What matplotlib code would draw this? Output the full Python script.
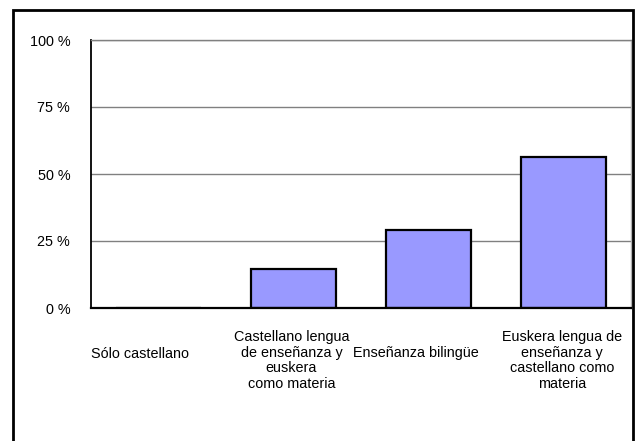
import numpy as np
import matplotlib
matplotlib.use('Agg')
import matplotlib.pyplot as plt
from matplotlib.patches import Rectangle
from matplotlib.transforms import blended_transform_factory, ScaledTranslation

categorias = ['Sólo castellano',
              'Castellano lengua\nde enseñanza y\neuskera\ncomo materia',
              'Enseñanza bilingüe',
              'Euskera lengua de\nenseñanza y\ncastellano como\nmateria']
porcentajes = [0.0, 14.6, 29.0, 56.5]
ticks_y = [0, 25, 50, 75, 100]
etiquetas_y = ['0 %', '25 %', '50 %', '75 %', '100 %']

plt.rcParams['font.family'] = ['Liberation Sans', 'DejaVu Sans']
tam = 10.4

W, H = 637, 441
fig = plt.figure(figsize=(W / 100, H / 100), dpi=100)
ax = fig.add_axes([91 / W, 1 - 308 / H, 540 / W, 268 / H])

x = np.arange(len(categorias))
ax.bar(x, porcentajes, width=0.63, color='#9999FF', edgecolor='black',
       linewidth=1.6, zorder=2)

ax.set_xlim(-0.5, len(categorias) - 0.5)
ax.set_ylim(0, 100)
ax.set_yticks(ticks_y)
ax.set_yticklabels(etiquetas_y, fontsize=tam)
ax.tick_params(axis='y', length=0, pad=15)
ax.set_xticks([])
ax.yaxis.grid(True, color='#808080', linewidth=1)
ax.set_axisbelow(True)

ax.spines['left'].set_color('black')
ax.spines['left'].set_linewidth(1.3)
ax.spines['bottom'].set_color('black')
ax.spines['bottom'].set_linewidth(1.6)
ax.spines['top'].set_color('#808080')
ax.spines['top'].set_linewidth(1)
ax.spines['right'].set_color('#b0b0b0')
ax.spines['right'].set_linewidth(1)

# etiquetas de categoría (Excel las desplaza un poco)
trans = blended_transform_factory(ax.transData, ax.transAxes)
desplaz_x = [-18.5, -2, -12.5, -1.5]
for i, texto in enumerate(categorias):
    n = texto.count('\n') + 1
    dy = -22 - (16.5 if n == 1 else 0)
    off = ScaledTranslation(desplaz_x[i] / 100, dy / 100, fig.dpi_scale_trans)
    ax.text(i, 0, texto, transform=trans + off, ha='center', va='top',
            multialignment='center', fontsize=tam, linespacing=1.15)

# marco exterior del gráfico
fig.add_artist(Rectangle((13 / W, -0.1), (633 - 13) / W, 1.1 - 10 / H,
                         transform=fig.transFigure, fill=False,
                         edgecolor='black', linewidth=2))

fig.savefig('out.png', dpi=100)
